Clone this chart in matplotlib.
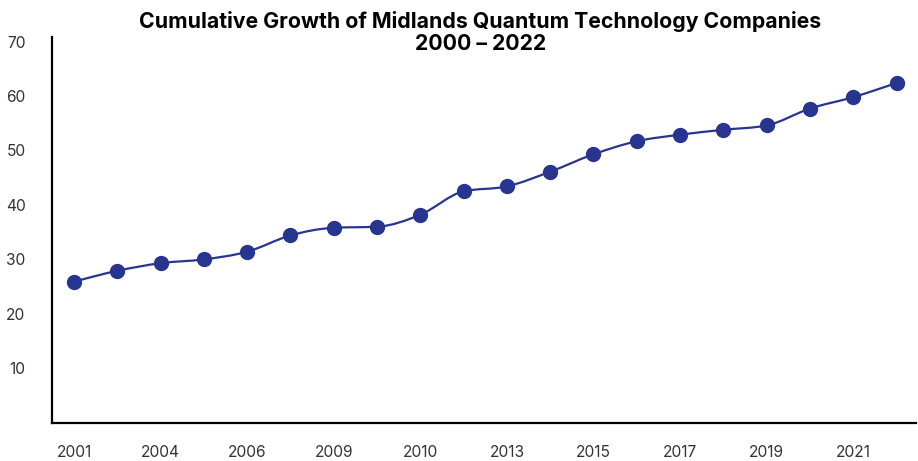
import numpy as np
import matplotlib.pyplot as plt
from matplotlib.path import Path
from matplotlib.patches import PathPatch

plt.rcParams['font.family'] = ['Inter', 'DejaVu Sans']

# cumulative number of companies, one point per period
companies = [25.9, 27.9, 29.3, 30.0, 31.4, 34.4, 35.8, 36.0, 38.2, 42.5,
             43.4, 46.1, 49.3, 51.7, 52.9, 53.8, 54.6, 57.7, 59.8, 62.4]
# labels shown under every other point
year_labels = ["2001", "2004", "2006", "2009", "2010",
               "2013", "2015", "2017", "2019", "2021"]
y_ticks = [10, 20, 30, 40, 50, 60, 70]

navy = "#283590"

x = np.arange(len(companies), dtype=float)
y = np.array(companies, dtype=float)


# monotone cubic (like d3 curveMonotoneX) as bezier segments
def monotone_path(x, y):
    n = len(x)
    h = np.diff(x)
    s = np.diff(y) / h
    t = np.zeros(n)
    for i in range(1, n - 1):
        p = (s[i - 1] * h[i] + s[i] * h[i - 1]) / (h[i - 1] + h[i])
        t[i] = (np.sign(s[i - 1]) + np.sign(s[i])) * min(abs(s[i - 1]), abs(s[i]), 0.5 * abs(p))
    t[0] = (3 * s[0] - t[1]) / 2
    t[-1] = (3 * s[-1] - t[-2]) / 2
    verts = [(x[0], y[0])]
    codes = [Path.MOVETO]
    for i in range(n - 1):
        dx = (x[i + 1] - x[i]) / 3
        verts += [(x[i] + dx, y[i] + dx * t[i]),
                  (x[i + 1] - dx, y[i + 1] - dx * t[i + 1]),
                  (x[i + 1], y[i + 1])]
        codes += [Path.CURVE4] * 3
    return Path(verts, codes)


fig = plt.figure(figsize=(9.18, 4.61), dpi=100)
ax = fig.add_axes([0.0566, 0.0831, 0.9412, 0.8373])

ax.add_patch(PathPatch(monotone_path(x, y), facecolor="none",
                       edgecolor=navy, linewidth=1.6, zorder=2))
ax.plot(x, y, "o", color=navy, markersize=10, zorder=3)

ax.set_xlim(-0.51, 19.45)
ax.set_ylim(0, 70.9)

ax.set_xticks(x[::2])
ax.set_xticklabels(year_labels)
ax.set_yticks(y_ticks)

for side in ["top", "right"]:
    ax.spines[side].set_visible(False)
for side in ["left", "bottom"]:
    ax.spines[side].set_linewidth(1.6)
    ax.spines[side].set_color("black")

ax.tick_params(axis="both", length=0, labelsize=11.2, colors="#333333")
ax.tick_params(axis="y", pad=19)
ax.tick_params(axis="x", pad=16)

fig.text(0.523, 0.9295, "Cumulative Growth of Midlands Quantum Technology Companies\n2000 – 2022",
         ha="center", va="center", fontsize=15.3, fontweight="bold",
         linespacing=1.18, color="black")

fig.savefig("out.png", dpi=100)
